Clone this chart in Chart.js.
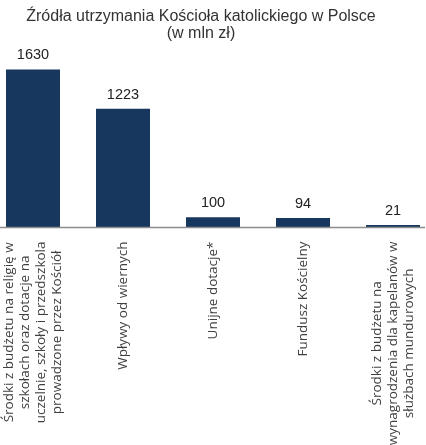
<!DOCTYPE html>
<html>
<head>
<meta charset="utf-8">
<script src="https://cdn.jsdelivr.net/npm/chart.js@4"></script>
<style>
    html, body { margin: 0; padding: 0; background: #fff; }
    #wrap { width: 426px; height: 445px; position: relative; }
</style>
</head>
<body>
<div id="wrap"><canvas id="barChart"></canvas></div>
<script>
// Chart data
const titleLines = ['Źródła utrzymania Kościoła katolickiego w Polsce', '(w mln zł)'];
const categories = [
    ['Środki z budżetu na religię w', 'szkołach oraz dotacje na', 'uczelnie, szkoły i przedszkola', 'prowadzone przez Kościół'],
    ['Wpływy od wiernych'],
    ['Unijne dotacje*'],
    ['Fundusz Kościelny'],
    ['Środki z budżetu na', 'wynagrodzenia dla kapelanów w', 'służbach mundurowych']
];
const values = [1630, 1223, 100, 94, 21];

const BAR_COLOR = '#17375E';
const LABEL_FONT = '13.5px "Open Sans"';

// Title, axis line, value labels and rotated category labels
const labelPlugin = {
    id: 'labelPlugin',
    afterDraw(chart) {
        const ctx = chart.ctx;
        const xScale = chart.scales.x;
        const yScale = chart.scales.y;
        const meta = chart.getDatasetMeta(0);

        ctx.save();
        // baseline axis across the full width
        const y0 = Math.round(yScale.getPixelForValue(0)) + 0.5;
        ctx.strokeStyle = '#8c8c8c';
        ctx.lineWidth = 1.5;
        ctx.beginPath();
        ctx.moveTo(0, y0);
        ctx.lineTo(chart.width - 1, y0);
        ctx.stroke();

        ctx.fillStyle = '#333';
        ctx.font = '16px "Liberation Sans"';
        ctx.textAlign = 'center';
        ctx.textBaseline = 'alphabetic';
        ctx.fillText(titleLines[0], 201, 21);
        ctx.fillText(titleLines[1], 201, 38);

        ctx.fillStyle = '#222';
        ctx.font = '14.5px "Liberation Sans"';
        meta.data.forEach((bar, i) => {
            ctx.fillText(values[i], bar.x, bar.y - 10);
        });

        ctx.fillStyle = '#404040';
        ctx.font = LABEL_FONT;
        const lineH = 16;
        const top = y0 + 14;
        categories.forEach((lines, i) => {
            const x = xScale.getPixelForTick(i);
            const maxW = Math.max(...lines.map(l => ctx.measureText(l).width));
            ctx.save();
            ctx.translate(x, top);
            ctx.rotate(-Math.PI / 2);
            ctx.textAlign = 'center';
            ctx.textBaseline = 'middle';
            lines.forEach((line, k) => {
                ctx.fillText(line, -maxW / 2, (k - (lines.length - 1) / 2) * lineH);
            });
            ctx.restore();
        });
        ctx.restore();
    }
};

new Chart(document.getElementById('barChart'), {
    type: 'bar',
    data: {
        labels: categories,
        datasets: [{
            data: values,
            backgroundColor: BAR_COLOR,
            borderWidth: 0,
            barPercentage: 0.6,
            categoryPercentage: 1,
            clip: false
        }]
    },
    options: {
        responsive: true,
        maintainAspectRatio: false,
        animation: false,
        layout: { padding: { top: 53, bottom: 218, left: 33, right: 33 } },
        plugins: {
            legend: { display: false },
            title: { display: false },
            tooltip: { enabled: false }
        },
        scales: {
            x: {
                offset: false,
                grid: { display: false, drawTicks: false },
                ticks: { display: false },
                border: { display: false }
            },
            y: {
                display: false,
                min: 0,
                max: 1800
            }
        }
    },
    plugins: [labelPlugin]
});
</script>
</body>
</html>
